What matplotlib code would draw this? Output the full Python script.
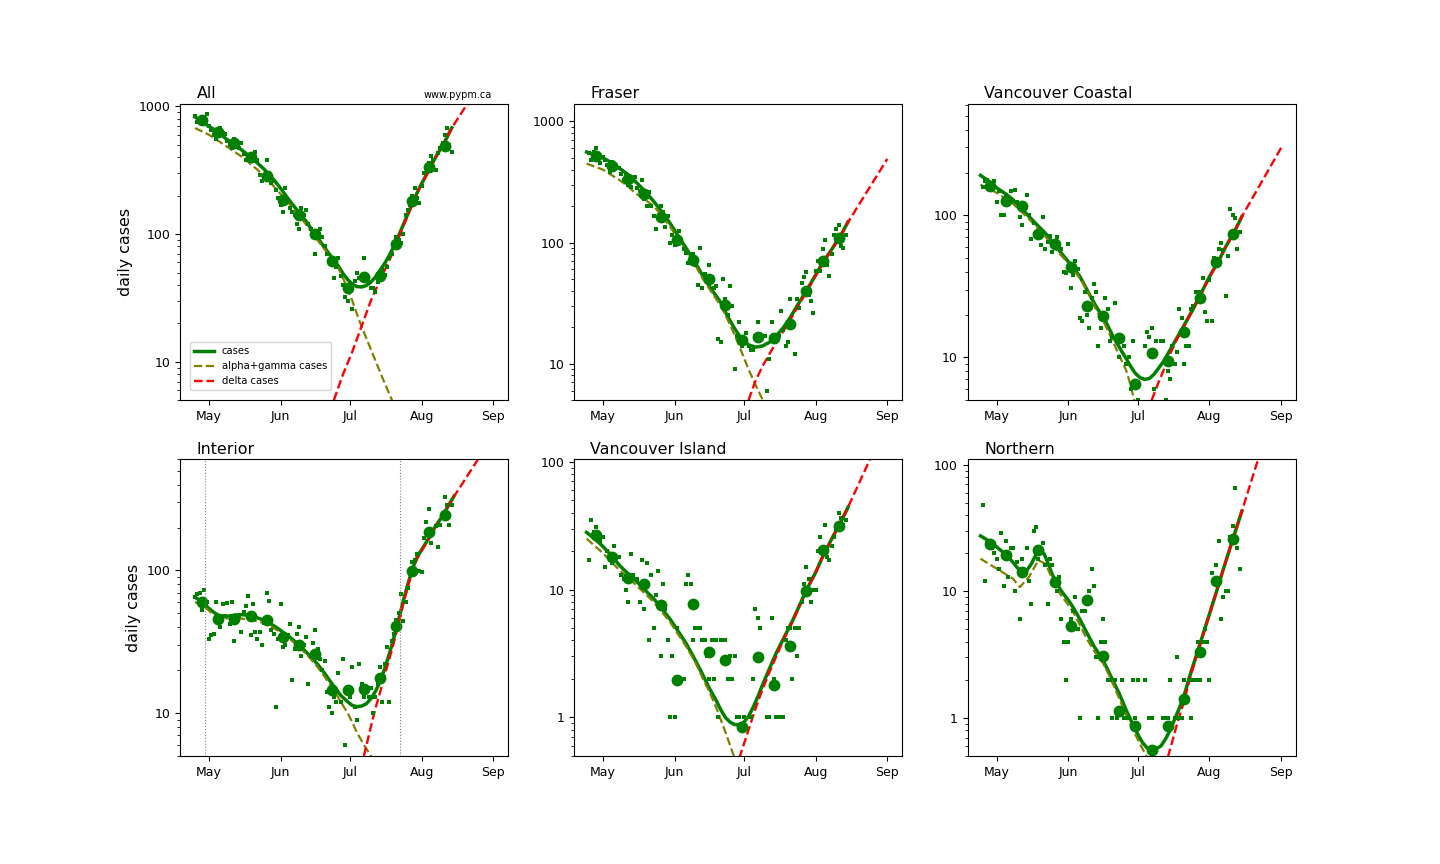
import numpy as np
import matplotlib
matplotlib.use('Agg')
import matplotlib.pyplot as plt
import matplotlib.dates as mdates
from matplotlib.ticker import FuncFormatter, NullFormatter

# all x values are days counted from 1 May 2021
day0 = mdates.datestr2num('2021-05-01')
daily_days = np.arange(-6, 106)          # Apr 25 .. Aug 14
weekly_days = np.arange(-3, 103, 7)      # weekly means, Apr 28 .. Aug 11

# ---- All
daily_all = [835, 750, 800, 830, 780, 870, 700, 650, 600, 560, 640, 680, 620, 610,
             540, 500, 470, 560, 530, 470, 520, 420, 380, 380, 410, 400, 440, 380,
             290, 260, 270, 380, 300, 250, 260, 220, 190, 170, 150, 230, 180, 160,
             150, 140, 120, 110, 160, 140, 155, 120, 110, 95, 70, 100, 110, 95,
             80, 70, 60, 58, 45, 55, 65, 47, 40, 32, 30, 36, 26, 43,
             50, 45, 46, 65, 47, 42, 38, 38, 35, 42, 47, 52, 48, 55,
             65, 70, 80, 95, 90, 85, 100, 140, 155, 170, 200, 230, 190, 175,
             240, 300, 330, 360, 410, 380, 320, 430, 470, 520, 600, 680, 500, 440]
weekly_all = [787, 630, 517, 401, 283, 186, 140, 101, 62, 38, 46, 47, 83, 181, 335, 486]
cases_days_all = [-6, -3, 0, 4, 7, 10, 14, 17, 21, 24, 28, 31, 35, 38, 42, 45, 49, 52, 56, 58, 60, 62,
                  64, 66, 68, 70, 72, 74, 76, 78, 81, 84, 88, 91, 95, 98, 102, 105]
cases_all = [826, 760, 698, 630, 565, 515, 458, 415, 360, 320, 267, 228, 181, 155, 126, 105, 83, 70, 56, 49, 44, 40.5,
             38.8, 38.5, 39.5, 42, 46, 52, 59, 68, 88, 118, 175, 230, 315, 400, 530, 680]
alpha_days_all = [-6, 0, 7, 14, 21, 28, 35, 42, 49, 53, 56, 59, 62, 65, 70, 75, 80]
alpha_all = [677, 600, 495, 406, 319, 237, 170, 119, 80, 66, 54, 41, 30, 21, 12.5, 7.5, 4.6]
delta_days_all = [54, 58, 62, 66, 70, 74, 78, 81, 84, 88, 91, 95, 98, 102, 105, 111, 123]
delta_all = [5, 8, 12, 19, 30, 44, 62, 84, 115, 172, 228, 313, 398, 528, 678, 1000, 1500]

# ---- Fraser
daily_fraser = [545, 480, 560, 600, 510, 450, 505, 480, 440, 380, 460, 440, 410, 410,
                370, 330, 370, 300, 290, 340, 350, 280, 265, 330, 230, 200, 260, 200,
                165, 130, 160, 200, 180, 135, 165, 100, 115, 95, 100, 125, 105, 88,
                82, 68, 75, 80, 65, 45, 90, 42, 55, 50, 65, 52, 42, 44,
                16, 15, 50, 34, 25, 44, 30, 9, 17, 22, 14, 16, 18, 14,
                13, 13, 17, 22, 17, 17, 17, 6, 11, 22, 16, 16, 17, 27,
                19, 14, 15, 34, 22, 12, 34, 29, 46, 52, 57, 37, 33, 26,
                58, 70, 58, 88, 105, 65, 53, 80, 115, 130, 140, 93, 90, 115]
weekly_fraser = [521, 431, 336, 252, 162, 104, 72, 50, 30.5, 15.7, 16.6, 16.4, 21.4, 40, 71, 109]
cases_days_fraser = [-7, -3, 0, 4, 7, 10, 14, 18, 22, 25, 29, 32, 36, 40, 43, 47, 51, 54, 57, 60, 63,
                     66, 69, 72, 75, 78, 81, 84, 88, 91, 95, 99, 103, 106]
cases_fraser = [559, 530, 499, 455, 412, 375, 320, 268, 219, 185, 145, 118, 90, 68, 54, 41, 32, 24.5, 19.5, 16, 14.3,
                13.7, 14, 15, 17, 19.8, 24, 30, 40, 50, 68, 88, 116, 148]
alpha_days_fraser = [-7, 0, 7, 11, 14, 18, 22, 25, 29, 32, 36, 40, 43, 47, 51, 54, 57, 60, 63, 66, 69, 72]
alpha_fraser = [448, 400, 330, 290, 256, 228, 200, 172, 136, 111, 85, 65, 51, 39, 30, 23, 17.3, 12.5, 9, 6.7, 5.1, 3.7]
delta_days_fraser = [63, 66, 69, 72, 75, 78, 81, 84, 88, 91, 95, 99, 103, 106, 123]
delta_fraser = [5, 7.2, 9.5, 12, 15, 18.5, 23, 29, 39, 49, 67, 87, 115, 147, 490]

# ---- Vancouver Coastal
daily_vch = [158, 175, 178, 168, 155, 175, 125, 148, 100, 100, 140, 127, 148, 126,
             150, 125, 98, 85, 115, 140, 100, 68, 88, 75, 70, 62, 97, 58,
             65, 72, 55, 62, 70, 59, 58, 40, 39, 63, 31, 38, 48, 42,
             19, 18, 29, 20, 16, 26, 33, 29, 12, 16, 19, 26, 22, 13,
             14, 24, 13, 10, 13, 12, 9, 10, 6, 13, 4, 5, 4, 4,
             12, 15, 14, 16, 6, 13, 0, 13, 13, 5, 8, 7, 12, 9,
             11, 22, 19, 9, 12, 12, 22, 23, 29, 26, 29, 36, 21, 18,
             35, 18, 50, 47, 58, 64, 57, 27, 52, 110, 100, 95, 58, 76]
weekly_vch = [162, 127, 116, 74, 63, 43, 23, 19.6, 13.6, 6.5, 10.8, 9.5, 15.2, 26, 47, 74]
cases_days_vch = [-7, -3, 0, 4, 7, 10, 14, 17, 21, 24, 28, 32, 36, 40, 43, 47, 50, 53, 56, 58, 60, 62,
                  64, 66, 68, 70, 72, 75, 78, 81, 85, 88, 92, 96, 99, 103, 106]
cases_vch = [191, 172, 156, 141, 129, 115, 98, 87, 75, 65, 54, 45, 37, 28, 22.8, 18, 14.4, 11.8, 9.8, 8.6, 7.7, 7.2,
             7.0, 7.1, 7.6, 8.4, 9.3, 11.3, 13.8, 16.8, 22, 27.5, 37, 48, 60, 78, 98]
alpha_days_vch = [-7, 0, 7, 14, 21, 28, 32, 36, 40, 43, 47, 50, 53, 56, 58, 60, 62]
alpha_vch = [164, 144, 121, 94, 71, 52, 44, 36, 28, 21.6, 16.8, 13.2, 10.3, 8.1, 6.3, 4.6, 3.3]
delta_days_vch = [67, 70, 72, 75, 78, 81, 85, 88, 92, 96, 99, 103, 106, 123]
delta_vch = [5, 6.7, 8.0, 10.6, 13.5, 16.6, 22, 27.3, 36.7, 48, 60, 78, 98, 299]

# ---- Interior
daily_interior = [65, 68, 69, 53, 73, 60, 33, 35, 36, 60, 45, 40, 58, 48,
                  59, 42, 60, 32, 44, 48, 37, 51, 56, 66, 35, 58, 37, 33,
                  37, 30, 43, 70, 61, 38, 36, 11, 33, 58, 29, 30, 35, 42,
                  17, 28, 36, 40, 25, 30, 34, 16, 25, 31, 38, 28, 24, 20,
                  23, 14, 11, 10, 13, 12, 19, 12, 24, 6, 15, 13, 21, 11,
                  9, 22, 16, 13, 15, 13, 15, 10, 13, 16, 21, 12, 22, 29,
                  12, 32, 36, 45, 50, 68, 44, 60, 75, 100, 115, 118, 130, 99,
                  98, 170, 220, 270, 155, 190, 205, 145, 210, 240, 330, 290, 210, 290]
weekly_interior = [60, 46, 46, 48, 45, 34, 30, 26, 14.6, 14.6, 14.7, 17.6, 41, 99.5, 187, 245]
cases_days_interior = [-6, -3, -1, 2, 4, 7, 9, 12, 14, 16, 18, 21, 25, 29, 33, 36, 40, 43, 47, 50, 54, 57, 60,
                       62, 64, 66, 68, 70, 72, 74, 76, 78, 80, 82, 84, 86, 88, 90, 92, 95, 98, 100, 103, 106]
cases_interior = [65, 60, 56, 51, 48.5, 47.5, 48, 48.8, 49, 48.7, 48, 46.5, 44, 40, 36, 33, 29, 25.8, 22, 19, 15.4, 13.3, 12,
                  11.3, 11.1, 11.2, 11.6, 12.6, 14.2, 16.6, 20.5, 26, 34, 45, 61, 80, 103, 124, 140, 168, 205, 228, 275, 333]
alpha_days_interior = [-6, -3, -1, 2, 4, 7, 9, 12, 14, 18, 21, 25, 29, 33, 36, 40, 43, 47, 50, 54, 57, 60, 62, 64, 67, 70, 74]
alpha_interior = [60, 57, 54, 49, 46.5, 46, 46.5, 46.5, 46, 45, 44, 42, 38.5, 35, 32, 28, 25, 21, 18, 14.4, 12, 10,
                  8.6, 7.3, 6.0, 5.0, 3.8]
delta_days_interior = [67, 70, 72, 74, 76, 78, 80, 82, 84, 86, 88, 90, 92, 95, 98, 100, 103, 106, 116, 123]
delta_interior = [5, 8, 10.8, 14, 18.5, 24, 31.5, 42, 58, 77, 100, 121, 138, 166, 203, 226, 273, 331, 590, 900]
changes_interior = [-1.7, 82.4]

# ---- Vancouver Island
daily_island = [17, 35, 28, 31, 27, 24, 26, 15, 20, 17, 16, 22, 18, 18,
                13, 12, 10, 8, 19, 13, 12, 12, 8, 17, 7, 16, 4, 13,
                5, 9, 14, 3, 11, 7, 4, 1, 3, 1, 5, 2, 0, 2,
                11, 13, 11, 4, 5, 5, 5, 4, 4, 3, 2, 4, 2, 4,
                1, 4, 4, 4, 2, 3, 2, 3, 1, 1, 0, 1, 0, 0,
                1, 2, 7, 6, 5, 0, 0, 1, 1, 6, 2, 1, 1, 1,
                1, 4, 5, 5, 2, 5, 3, 5, 8, 11, 15, 12, 8, 10,
                10, 20, 26, 21, 32, 18, 17, 22, 26, 30, 40, 36, 32, 35]
weekly_island = [26.7, 18, 12.4, 11, 7.6, 1.96, 7.7, 3.26, 2.8, 0.85, 2.97, 1.81, 3.6, 9.8, 20.5, 31.5]
cases_days_island = [-7, -3, 0, 4, 7, 10, 14, 18, 22, 25, 29, 32, 36, 40, 43, 46, 49, 51, 53, 55, 57, 59,
                     61, 63, 65, 67, 69, 72, 75, 78, 82, 85, 88, 92, 95, 99, 103, 106]
cases_island = [28, 24.5, 21.8, 18.2, 15.6, 13.8, 11.9, 10, 8.5, 7.3, 5.9, 4.9, 3.8, 2.8, 2.2, 1.7, 1.36, 1.15, 1.0, 0.92,
                0.88, 0.88, 0.92, 1.02, 1.2, 1.45, 1.79, 2.4, 3.2, 4.1, 5.7, 7.5, 9.9, 13.6, 18, 25, 34, 44]
alpha_days_island = [-7, 0, 7, 14, 22, 29, 36, 40, 43, 46, 49, 53, 57]
alpha_island = [25, 19.3, 14.3, 11, 8, 5.6, 3.6, 2.7, 2.06, 1.6, 1.2, 0.77, 0.48]
delta_days_island = [59, 61, 63, 65, 67, 69, 72, 75, 78, 82, 85, 88, 92, 95, 99, 103, 106, 116, 123]
delta_island = [0.48, 0.62, 0.8, 1.03, 1.32, 1.65, 2.25, 3.0, 4.0, 5.6, 7.4, 9.9, 13.6, 18, 25, 34, 44, 109, 190]

# ---- Northern
daily_northern = [48, 12, 24, 23, 22, 20, 18, 15, 29, 11, 25, 13, 22, 22,
                  10, 17, 6, 18, 14, 22, 12, 8, 30, 32, 18, 20, 24, 16,
                  8, 18, 16, 12, 10, 13, 6, 4, 2, 4, 6, 7, 9, 5,
                  1, 7, 7, 9, 10, 15, 11, 3, 1, 4, 6, 4, 2, 2,
                  1, 2, 1, 0, 2, 1, 1, 1, 0, 2, 1, 2, 0, 0,
                  2, 0, 1, 1, 0, 0, 0, 0, 1, 1, 1, 2, 0, 1,
                  3, 1, 1, 2, 0, 2, 1, 2, 2, 4, 2, 4, 5, 4,
                  2, 14, 12, 16, 25, 6, 9, 10, 10, 27, 33, 66, 22, 15]
weekly_northern = [23.8, 19.5, 14.2, 21.1, 11.8, 5.3, 8.5, 3.1, 1.13, 0.86, 0.56, 0.86, 1.42, 3.3, 12, 26]
cases_days_northern = [-7, -3, 0, 4, 7, 9, 11, 13, 15, 17, 18, 19, 20.5, 22, 24, 26, 28, 31, 33, 36, 39, 42, 46, 49,
                       53, 56, 59, 61, 63, 65, 67, 69, 71, 73, 75, 77, 79, 81, 84, 88, 91, 95, 98, 102, 106]
cases_northern = [27.4, 24.8, 22.4, 19.5, 17, 15.3, 14.3, 14.6, 16.5, 19.5, 20.8, 21, 19.8, 17, 13.6, 11.5, 10, 8.5,
                  7.5, 6, 4.7, 3.7, 2.85, 2.2, 1.55, 1.15, 0.88, 0.74, 0.64, 0.58, 0.56, 0.57, 0.6, 0.68, 0.8, 0.98,
                  1.2, 1.5, 2.3, 3.9, 5.8, 9.9, 15, 25.5, 43]
alpha_days_northern = [-7, 0, 7, 10, 14, 18, 21, 22, 24, 26, 28, 31, 33, 36, 39, 42, 46, 49, 53, 56, 59, 62, 65]
alpha_northern = [18.1, 15.1, 12.6, 10.8, 13, 17.6, 16.5, 15.2, 12.5, 10.5, 9.2, 7.8, 6.9, 5.4, 4.2, 3.4, 2.7, 2.1,
                  1.42, 1.05, 0.8, 0.62, 0.49]
delta_days_northern = [74, 76, 78, 81, 84, 88, 91, 95, 98, 102, 106, 113, 123]
delta_northern = [0.49, 0.66, 0.9, 1.35, 2.2, 3.8, 5.8, 9.9, 15, 25.5, 43, 110, 420]

regions = ['All', 'Fraser', 'Vancouver Coastal', 'Interior', 'Vancouver Island', 'Northern']
ylims = [(5, 1050), (5, 1400), (5, 610), (5, 600), (0.5, 104), (0.5, 110)]
panels = [
    (daily_all, weekly_all, cases_days_all, cases_all, alpha_days_all, alpha_all, delta_days_all, delta_all),
    (daily_fraser, weekly_fraser, cases_days_fraser, cases_fraser, alpha_days_fraser, alpha_fraser, delta_days_fraser, delta_fraser),
    (daily_vch, weekly_vch, cases_days_vch, cases_vch, alpha_days_vch, alpha_vch, delta_days_vch, delta_vch),
    (daily_interior, weekly_interior, cases_days_interior, cases_interior, alpha_days_interior, alpha_interior, delta_days_interior, delta_interior),
    (daily_island, weekly_island, cases_days_island, cases_island, alpha_days_island, alpha_island, delta_days_island, delta_island),
    (daily_northern, weekly_northern, cases_days_northern, cases_northern, alpha_days_northern, alpha_northern, delta_days_northern, delta_northern),
]

fig, axs = plt.subplots(2, 3, figsize=(14.4, 8.64), dpi=100)
fig.subplots_adjust(left=0.125, right=0.9, top=0.88, bottom=0.125, wspace=0.2, hspace=0.2)

for i, ax in enumerate(axs.flat):
    daily, weekly, cd, cv, ad, av, dd, dv = panels[i]
    ax.set_yscale('log')
    ax.plot(day0 + np.array(cd), cv, color='green', lw=2.5, label='cases')
    ax.plot(day0 + np.array(ad), av, color='olive', ls='--', lw=1.6, label='alpha+gamma cases')
    ax.plot(day0 + np.array(dd), dv, color='red', ls='--', lw=1.7, label='delta cases')
    d = np.array(daily, dtype=float)
    d[d <= 0] = np.nan
    ax.plot(day0 + daily_days, d, 's', color='green', markersize=2.4, markeredgewidth=0)
    ax.plot(day0 + weekly_days, weekly, 'o', color='green', markersize=7.5)
    if regions[i] == 'Interior':
        for c in changes_interior:
            ax.axvline(day0 + c, color='grey', ls=':', lw=0.8)

    ax.set_ylim(*ylims[i])
    ax.set_xlim(day0 - 12.5, day0 + 129.4)
    ax.xaxis.set_major_locator(mdates.MonthLocator())
    ax.xaxis.set_major_formatter(mdates.DateFormatter('%b'))
    ax.yaxis.set_major_formatter(FuncFormatter(lambda v, p: f'{v:g}'))
    ax.yaxis.set_minor_formatter(NullFormatter())
    ax.tick_params(labelsize=9)
    ax.text(0.05, 1.02, regions[i], transform=ax.transAxes, fontsize=11.4, va='baseline')
    if i % 3 == 0:
        ax.set_ylabel('daily cases', fontsize=11.4)
    if i == 0:
        ax.text(0.95, 1.02, 'www.pypm.ca', transform=ax.transAxes, fontsize=7,
                ha='right', va='baseline')
        ax.legend(loc='lower left', fontsize=7.2, borderaxespad=1.0)

fig.savefig('out.png', dpi=100)
